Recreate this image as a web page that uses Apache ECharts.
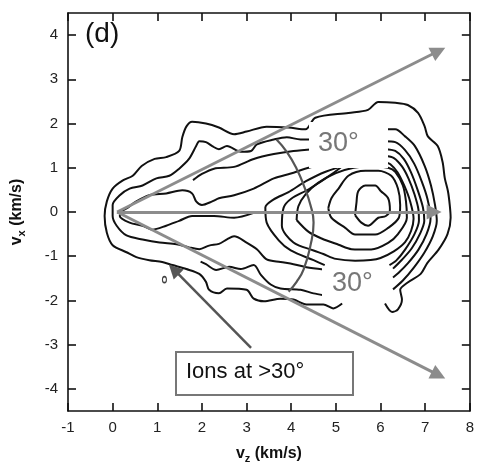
<!DOCTYPE html>
<html>
<head>
<meta charset="utf-8">
<script src="https://cdn.jsdelivr.net/npm/echarts@6/dist/echarts.min.js"></script>
<style>
  body { margin: 0; background: #fff; }
  #chart { width: 477px; height: 469px; }
</style>
</head>
<body>
<div id="chart"></div>
<script>
// ticks
const xTicks = [-1, 0, 1, 2, 3, 4, 5, 6, 7, 8]
const yTicks = [-4, -3, -2, -1, 0, 1, 2, 3, 4]

// contour lines, [vz, vx] in km/s
const contourOuter = [[5.14,-2.07],[4.94,-2.18],[4.72,-2.09],[4.34,-2.09],[4.05,-1.98],[3.76,-1.96],[3.39,-2.02],[3.16,-1.96],[3.0,-1.76],[2.56,-1.73],[2.38,-1.84],[2.16,-1.76],[2.09,-1.58],[1.94,-1.4],[1.65,-1.29],[1.34,-1.2],[1.11,-1.13],[0.82,-1.09],[0.53,-1.02],[0.31,-0.91],[0.0,-0.75],[-0.13,-0.47],[-0.18,-0.09],[-0.13,0.24],[0.0,0.53],[0.22,0.71],[0.45,0.82],[0.65,1.04],[0.94,1.2],[1.2,1.24],[1.49,1.38],[1.56,1.69],[1.65,1.93],[1.78,2.04],[2.09,2.0],[2.38,1.91],[2.72,1.76],[3.0,1.82],[3.45,1.93],[3.94,1.91],[4.32,1.87],[4.54,2.13],[5.28,2.24],[5.72,2.31],[5.95,2.49],[6.33,2.47],[6.61,2.42],[6.84,2.24],[6.99,1.93],[7.06,1.71],[7.28,1.49],[7.39,1.13],[7.44,0.76],[7.51,0.47],[7.55,0.16],[7.57,-0.13],[7.5,-0.5],[7.3,-0.85],[7.05,-1.15],[6.9,-1.4],[6.6,-1.6],[6.44,-1.76],[6.48,-1.98],[6.39,-2.2],[6.26,-2.26],[6.1,-2.07]]
const contour2 = [[4.72,-1.3],[4.34,-1.25],[4.05,-1.18],[3.76,-1.13],[3.45,-1.07],[3.23,-0.84],[3.0,-0.69],[2.72,-0.55],[2.56,-0.62],[2.38,-0.72],[2.16,-0.76],[1.94,-0.84],[1.71,-0.8],[1.43,-0.73],[1.05,-0.69],[0.67,-0.62],[0.31,-0.53],[0.09,-0.31],[0,-0.09],[0,0.16],[0.16,0.38],[0.38,0.53],[0.67,0.6],[0.98,0.76],[1.27,0.82],[1.49,0.98],[1.71,1.2],[1.87,1.49],[1.94,1.6],[2.09,1.58],[2.23,1.49],[2.38,1.42],[2.56,1.49],[2.87,1.36],[3.1,1.38],[3.23,1.53],[3.61,1.64],[3.9,1.69],[4.21,1.64],[4.5,1.64]]
const contourLow = [[1.97,-1.12],[2.09,-1.18],[2.32,-1.31],[2.61,-1.24],[2.87,-1.29],[3.16,-1.2],[3.32,-1.42],[3.54,-1.64],[3.76,-1.73],[4.21,-1.76],[4.5,-1.84],[4.72,-1.88]]
const contourHigh = [[1.8,0.72],[2.0,0.86],[2.27,0.98],[2.72,1.02],[3.16,1.2],[3.61,1.31],[4.05,1.38],[4.5,1.42]]
const contour3 = [[3.16,-0.02],[2.72,-0.13],[2.27,-0.09],[1.78,-0.09],[1.49,-0.2],[1.2,-0.31],[0.89,-0.4],[0.67,-0.31],[0.38,-0.24],[0.16,-0.09],[0.2,0.02],[0.31,0.08],[0.53,0.24],[0.82,0.38],[1.2,0.42],[1.56,0.49],[1.78,0.42],[1.87,0.24],[2.0,0.16],[2.23,0.24],[2.38,0.31],[2.72,0.38],[3.16,0.53],[3.61,0.76],[3.99,0.87],[4.39,1.0],[4.9,1.1]]
const contour5 = [[5.35,1.1],[4.77,0.91],[4.32,0.69],[3.94,0.45],[3.6,0.28],[3.42,0.1],[3.45,-0.24],[3.72,-0.64],[3.99,-0.87],[4.5,-1.09],[4.75,-1.2]]
const contour6 = [[5.2,1.08],[4.9,0.85],[4.4,0.52],[4.0,0.3],[3.83,0.1],[3.79,-0.31],[4.05,-0.69],[4.5,-0.87],[4.72,-0.95],[5.0,-1.06],[5.43,-1.1],[6.0,-1.04],[6.55,-0.68],[6.74,-0.15],[6.66,0.25],[6.53,0.6],[6.38,0.9],[6.22,1.08],[6.12,1.12]]
const contour7 = [[4.12,-0.18],[4.16,0.13],[4.32,0.4],[4.6,0.66],[5.0,0.88],[5.4,1.0],[5.8,1.04],[6.17,1.0],[6.33,0.91],[6.5,0.6],[6.57,0.24],[6.59,-0.13],[6.39,-0.5],[6.17,-0.7],[5.79,-0.85],[5.35,-0.84],[5.06,-0.74],[4.68,-0.6],[4.39,-0.45],[4.12,-0.18]]
const contour8 = [[4.83,0.09],[4.9,0.31],[5.06,0.53],[5.28,0.82],[5.66,0.93],[5.95,0.93],[6.24,0.82],[6.39,0.53],[6.44,0.16],[6.41,-0.13],[6.17,-0.36],[5.88,-0.51],[5.43,-0.51],[5.21,-0.36],[4.9,-0.13],[4.83,0.09]]
const contourPeak = [[5.43,-0.07],[5.46,0.2],[5.5,0.47],[5.66,0.6],[5.88,0.6],[6.01,0.47],[6.17,0.31],[6.21,0.04],[6.12,-0.09],[5.95,-0.13],[5.72,-0.31],[5.57,-0.24],[5.43,-0.07]]
const rightA = [[6.1,1.87],[6.33,1.87],[6.55,1.71],[6.77,1.49],[6.99,1.04],[7.13,0.6],[7.22,0.16],[7.26,-0.2],[7.17,-0.55],[6.98,-0.92],[6.75,-1.25],[6.5,-1.55],[6.28,-1.75]]
const rightB = [[6.1,1.6],[6.33,1.58],[6.55,1.4],[6.75,1.1],[6.92,0.7],[7.05,0.3],[7.12,-0.15],[7.03,-0.5],[6.85,-0.85],[6.62,-1.15],[6.4,-1.38],[6.28,-1.48]]
const rightC = [[6.1,1.42],[6.33,1.38],[6.52,1.2],[6.68,0.9],[6.83,0.5],[6.95,0.1],[6.98,-0.2],[6.88,-0.5],[6.7,-0.82],[6.48,-1.08],[6.28,-1.28]]
const rightD = [[6.1,1.27],[6.3,1.22],[6.48,1.03],[6.63,0.75],[6.76,0.4],[6.85,0.05],[6.86,-0.2],[6.76,-0.5],[6.55,-0.85],[6.35,-1.1],[6.2,-1.2]]
const strayDot = [[1.16,-1.53]]

const contours = [contourOuter, contour2, contourLow, contourHigh, contour3, contour5,
  contour6, contour7, contour8, contourPeak, rightA, rightB, rightC, rightD]

// annotations
const arcPts = [[3.67,1.64],[3.9,1.36],[4.12,0.98],[4.28,0.6],[4.43,0.16],[4.5,-0.24],[4.43,-0.76],[4.28,-1.29],[4.12,-1.58],[3.94,-1.8]]
const arrowUp = [[0.1,0],[7.3,3.64]]
const arrowMid = [[0.1,0],[7.2,0]]
const arrowDown = [[0.1,0],[7.3,-3.69]]
const arrowIons = [[3.1,-3.07],[1.37,-1.3]]

const chart = echarts.init(document.getElementById('chart'))
const font = "'Liberation Sans', Arial, Helvetica, sans-serif"

const contourSeries = contours.map(c => ({
  type: 'line', data: c, showSymbol: false, smooth: 0.3, z: 2,
  lineStyle: {color: '#111', width: 2}, silent: true
}))

const arrowSeries = [arrowUp, arrowMid, arrowDown].map(a => ({
  type: 'lines', coordinateSystem: 'cartesian2d', z: 60,
  symbol: ['none', 'triangle'], symbolSize: 15,
  lineStyle: {color: '#8c8c8c', width: 3, opacity: 1},
  data: [{coords: a}]
}))

const axisName = () => ({
  rich: {
    b: {fontFamily: font, fontSize: 16, fontWeight: 'bold', color: '#111'},
    s: {fontFamily: font, fontSize: 11, fontWeight: 'bold', color: '#111', padding: [9, 0, 0, 0]}
  }
})

chart.setOption({
  animation: false,
  grid: {left: 68, top: 13, right: 6, bottom: 52},
  xAxis: [
    {
      type: 'value', min: -1, max: 8, interval: 1,
      name: '{b|v}{s|z}{b| (km/s)}', nameLocation: 'middle', nameGap: 33,
      nameTextStyle: axisName(),
      axisLine: {onZero: false, lineStyle: {color: '#111', width: 1.6}},
      axisTick: {inside: true, length: 8, lineStyle: {color: '#111', width: 1.6}},
      axisLabel: {fontFamily: font, fontSize: 15, color: '#222', margin: 9},
      splitLine: {show: false}
    },
    {
      type: 'value', min: -1, max: 8, interval: 1, position: 'top',
      axisLine: {show: true, onZero: false, lineStyle: {color: '#111', width: 1.6}},
      axisTick: {inside: true, length: 8, lineStyle: {color: '#111', width: 1.6}},
      axisLabel: {show: false}, splitLine: {show: false}
    }
  ],
  yAxis: [
    {
      type: 'value', min: -4.5, max: 4.5,
      name: '{b|v}{s|x}{b| (km/s)}', nameLocation: 'middle', nameGap: 41, nameRotate: 90,
      nameTextStyle: axisName(),
      axisLine: {onZero: false, lineStyle: {color: '#111', width: 1.6}},
      axisTick: {inside: true, length: 8, customValues: yTicks, lineStyle: {color: '#111', width: 1.6}},
      axisLabel: {fontFamily: font, fontSize: 15, color: '#222', margin: 10, customValues: yTicks},
      splitLine: {show: false}
    },
    {
      type: 'value', min: -4.5, max: 4.5, position: 'right',
      axisLine: {show: true, onZero: false, lineStyle: {color: '#111', width: 1.6}},
      axisTick: {inside: true, length: 8, customValues: yTicks, lineStyle: {color: '#111', width: 1.6}},
      axisLabel: {show: false}, splitLine: {show: false}
    }
  ],
  series: [
    ...contourSeries,
    {
      type: 'scatter', data: strayDot, symbol: 'circle', symbolSize: [4, 6], z: 3,
      itemStyle: {color: '#fff', borderColor: '#111', borderWidth: 1.3}
    },
    {
      type: 'line', data: arcPts, showSymbol: false, smooth: true, z: 55,
      lineStyle: {color: '#555', width: 2.2}
    },
    ...arrowSeries,
    {
      type: 'lines', coordinateSystem: 'cartesian2d', z: 60,
      symbol: ['none', 'triangle'], symbolSize: 14,
      lineStyle: {color: '#555', width: 2.5, opacity: 1},
      data: [{coords: arrowIons}]
    }
  ],
  graphic: [
    // white patches behind the angle labels
    {type: 'rect', z: 50, shape: {x: 309, y: 122, width: 79, height: 46}, style: {fill: '#fff'}},
    {type: 'rect', z: 50, shape: {x: 322, y: 266, width: 70, height: 34}, style: {fill: '#fff'}},
    {type: 'text', z: 70, left: 85, top: 20, style: {text: '(d)', font: '28px ' + font, fill: '#111'}},
    {type: 'text', z: 70, left: 318, top: 130, style: {text: '30°', font: '27px ' + font, fill: '#777'}},
    {type: 'text', z: 70, left: 332, top: 270, style: {text: '30°', font: '27px ' + font, fill: '#777'}},
    {type: 'rect', z: 65, shape: {x: 176, y: 352, width: 177, height: 43}, style: {fill: '#fff', stroke: '#777', lineWidth: 2}},
    {type: 'text', z: 70, left: 186, top: 361, style: {text: 'Ions at >30°', font: '22px ' + font, fill: '#111'}}
  ]
})
</script>
</body>
</html>
